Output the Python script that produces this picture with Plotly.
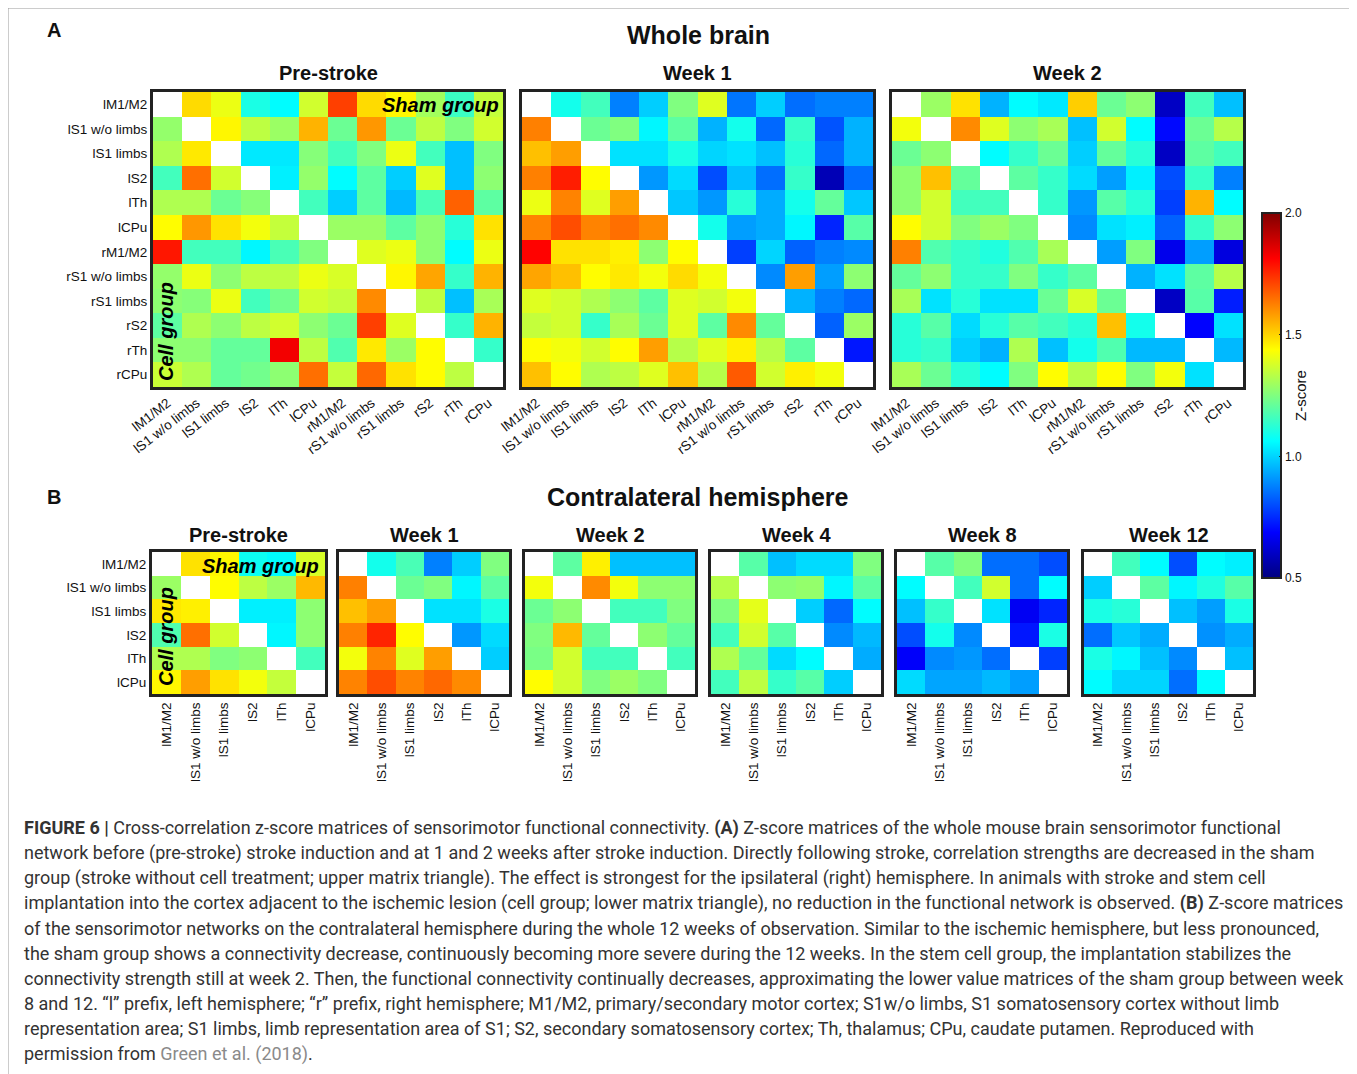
import plotly.graph_objects as go

W, H = 1357, 1074
N = None

regions_A = ["lM1/M2", "lS1 w/o limbs", "lS1 limbs", "lS2", "lTh", "lCPu",
             "rM1/M2", "rS1 w/o limbs", "rS1 limbs", "rS2", "rTh", "rCPu"]
regions_B = regions_A[:6]

titles_A = ["Pre-stroke", "Week 1", "Week 2"]
titles_B = ["Pre-stroke", "Week 1", "Week 2", "Week 4", "Week 8", "Week 12"]

pre_A = [
    [N, 1.49, 1.41, 1.10, 1.06, 1.37, 1.72, 1.49, 1.45, 1.30, 1.15, 1.35],
    [1.28, N, 1.45, 1.34, 1.29, 1.55, 1.22, 1.59, 1.22, 1.34, 1.25, 1.37],
    [1.32, 1.47, N, 1.03, 1.03, 1.26, 1.16, 1.25, 1.41, 1.16, 0.97, 1.25],
    [1.16, 1.65, 1.37, N, 1.04, 1.28, 1.06, 1.20, 0.99, 1.39, 0.97, 1.27],
    [1.32, 1.32, 1.22, 1.26, N, 1.16, 0.99, 1.20, 0.96, 1.17, 1.67, 1.20],
    [1.44, 1.59, 1.48, 1.42, 1.35, N, 1.29, 1.29, 1.20, 1.27, 1.12, 1.48],
    [1.78, 1.16, 1.16, 1.05, 1.17, 1.25, N, 1.39, 1.41, 1.27, 1.06, 1.41],
    [1.28, 1.41, 1.27, 1.34, 1.34, 1.41, 1.38, N, 1.45, 1.57, 1.14, 1.55],
    [1.27, 1.26, 1.41, 1.16, 1.23, 1.37, 1.35, 1.61, N, 1.34, 0.97, 1.31],
    [1.20, 1.32, 1.27, 1.34, 1.37, 1.27, 1.22, 1.72, 1.39, N, 1.14, 1.55],
    [1.27, 1.27, 1.21, 1.21, 1.83, 1.34, 1.18, 1.47, 1.29, 1.44, N, 1.14],
    [1.36, 1.32, 1.21, 1.23, 1.27, 1.65, 1.35, 1.66, 1.48, 1.44, 1.34, N],
]

wk1_A = [
    [N, 1.09, 1.16, 0.875, 0.99, 1.25, 1.39, 0.86, 0.99, 0.85, 0.875, 0.875],
    [1.625, N, 1.22, 1.25, 1.05, 1.20, 0.95, 1.09, 0.84, 1.14, 0.81, 0.95],
    [1.53, 1.58, N, 1.02, 1.02, 1.10, 1.00, 1.02, 0.97, 1.12, 0.84, 0.95],
    [1.625, 1.77, 1.44, N, 0.91, 1.01, 0.80, 0.97, 0.85, 1.14, 0.58, 0.85],
    [1.41, 1.62, 1.39, 1.58, N, 0.98, 0.91, 1.12, 0.94, 1.09, 1.21, 0.98],
    [1.62, 1.70, 1.62, 1.65, 1.61, N, 1.09, 0.92, 0.94, 1.05, 0.74, 1.19],
    [1.81, 1.48, 1.48, 1.46, 1.27, 1.44, N, 0.78, 1.00, 0.83, 0.875, 0.89],
    [1.57, 1.53, 1.44, 1.47, 1.42, 1.49, 1.42, N, 0.89, 1.58, 0.92, 1.27],
    [1.39, 1.37, 1.32, 1.27, 1.20, 1.39, 1.37, 1.42, N, 0.95, 0.875, 0.84],
    [1.35, 1.37, 1.14, 1.31, 1.22, 1.39, 1.20, 1.61, 1.21, N, 0.83, 1.29],
    [1.44, 1.42, 1.37, 1.44, 1.58, 1.33, 1.39, 1.46, 1.33, 1.20, N, 0.72],
    [1.53, 1.44, 1.32, 1.34, 1.39, 1.53, 1.33, 1.68, 1.37, 1.46, 1.42, N],
]

wk2_A = [
    [N, 1.29, 1.48, 0.95, 1.06, 1.03, 1.51, 1.22, 1.27, 0.60, 1.16, 0.97],
    [1.42, N, 1.61, 1.39, 1.27, 1.31, 0.97, 1.37, 1.06, 0.70, 1.22, 1.33],
    [1.22, 1.27, N, 1.06, 1.14, 1.22, 0.99, 1.21, 1.12, 0.60, 1.20, 1.16],
    [1.27, 1.53, 1.21, N, 1.20, 1.14, 1.01, 0.92, 1.04, 0.80, 1.14, 0.875],
    [1.27, 1.37, 1.16, 1.16, N, 1.14, 0.91, 1.19, 1.12, 0.78, 1.55, 1.06],
    [1.44, 1.37, 1.25, 1.29, 1.25, N, 0.89, 1.02, 1.04, 0.83, 1.14, 1.27],
    [1.625, 1.18, 1.14, 1.11, 1.18, 1.31, N, 0.92, 1.25, 0.66, 0.92, 0.64],
    [1.21, 1.27, 1.14, 1.14, 1.25, 1.14, 1.20, N, 0.95, 1.02, 1.20, 1.33],
    [1.31, 1.02, 1.12, 1.02, 1.02, 1.22, 1.38, 1.22, N, 0.60, 1.19, 0.73],
    [1.12, 1.19, 1.01, 1.12, 1.19, 1.16, 1.12, 1.53, 1.09, N, 0.69, 1.02],
    [1.12, 1.14, 0.99, 0.95, 1.32, 0.97, 1.09, 1.18, 0.96, 0.96, N, 0.96],
    [1.31, 1.22, 1.12, 1.06, 1.25, 1.44, 1.33, 1.44, 1.25, 1.42, 1.02, N],
]

pre_B = [
    [N, 1.48, 1.45, 1.08, 1.06, 1.38],
    [1.29, N, 1.44, 1.34, 1.29, 1.54],
    [1.47, 1.46, N, 1.04, 1.04, 1.27],
    [1.18, 1.65, 1.37, N, 1.05, 1.27],
    [1.32, 1.32, 1.25, 1.27, N, 1.16],
    [1.45, 1.58, 1.48, 1.42, 1.35, N],
]

wk1_B = [
    [N, 1.09, 1.17, 0.875, 0.99, 1.25],
    [1.625, N, 1.22, 1.25, 1.05, 1.20],
    [1.53, 1.58, N, 1.02, 1.02, 1.10],
    [1.625, 1.76, 1.44, N, 0.91, 1.01],
    [1.42, 1.62, 1.39, 1.58, N, 0.99],
    [1.62, 1.70, 1.62, 1.66, 1.61, N],
]

wk2_B = [
    [N, 1.20, 1.46, 0.97, 0.97, 0.97],
    [1.42, N, 1.61, 1.42, 1.27, 1.27],
    [1.22, 1.27, N, 1.16, 1.16, 1.25],
    [1.25, 1.54, 1.21, N, 1.27, 1.21],
    [1.24, 1.37, 1.16, 1.16, N, 1.16],
    [1.44, 1.37, 1.25, 1.29, 1.25, N],
]

wk4_B = [
    [N, 1.19, 0.97, 1.01, 1.01, 1.25],
    [1.33, N, 1.27, 1.28, 1.05, 1.20],
    [1.25, 1.40, N, 0.99, 0.84, 1.06],
    [1.16, 1.37, 1.19, N, 0.89, 0.96],
    [1.32, 1.21, 1.01, 1.06, N, 0.94],
    [1.16, 1.34, 1.14, 1.19, 0.99, N],
]

wk8_B = [
    [N, 1.19, 1.25, 0.85, 0.85, 0.80],
    [1.06, N, 1.16, 1.37, 0.85, 1.06],
    [0.97, 1.14, N, 1.02, 0.67, 0.74],
    [0.80, 1.09, 0.89, N, 0.72, 1.10],
    [0.68, 0.89, 0.91, 0.85, N, 0.78],
    [1.01, 0.93, 0.93, 0.96, 0.92, N],
]

wk12_B = [
    [N, 1.16, 1.06, 0.80, 1.06, 1.04],
    [0.99, N, 1.20, 1.05, 1.11, 1.19],
    [1.10, 1.12, N, 0.97, 0.92, 1.10],
    [0.85, 0.98, 0.94, N, 0.90, 0.94],
    [1.10, 1.05, 0.97, 0.89, N, 0.97],
    [1.06, 1.00, 1.00, 0.85, 1.06, N],
]

mats_A = [pre_A, wk1_A, wk2_A]
mats_B = [pre_B, wk1_B, wk2_B, wk4_B, wk8_B, wk12_B]

# jet colour scale
jet = [[0.0, "rgb(0,0,128)"], [0.125, "rgb(0,0,255)"], [0.375, "rgb(0,255,255)"],
       [0.625, "rgb(255,255,0)"], [0.875, "rgb(255,0,0)"], [1.0, "rgb(128,0,0)"]]

# the page body adds an 8 px margin; positions below are target screen pixels
OFF = 8

def px_x(p):
    return (p - OFF) / W

def px_y(p):
    return 1 - (p - OFF) / H

boxes_A = [(153, 503), (522, 873), (892, 1243)]
A_top, A_bot = 92, 387
boxes_B = [(152, 325), (339, 509), (525, 695), (711, 881), (897, 1067), (1084, 1253)]
B_top, B_bot = 552, 694

fig = go.Figure()
layout_axes = {}
annotations = []
TICKFONT = dict(family="Arial, Liberation Sans, sans-serif", size=13.5, color="#111")
TITLEFONT = dict(family="Arial, Liberation Sans, sans-serif", size=20, color="#111")

panels = []
for i, m in enumerate(mats_A):
    panels.append((m, regions_A, boxes_A[i], A_top, A_bot, -38, i == 0, titles_A[i], 73))
for i, m in enumerate(mats_B):
    panels.append((m, regions_B, boxes_B[i], B_top, B_bot, -90, i == 0, titles_B[i], 535))

for k, (m, labs, (x0, x1), yt, yb, ang, showy, title, ty) in enumerate(panels):
    n = k + 1
    xa = "x" if n == 1 else f"x{n}"
    ya = "y" if n == 1 else f"y{n}"
    fig.add_trace(go.Heatmap(z=m, x=labs, y=labs, coloraxis="coloraxis",
                             xaxis=xa, yaxis=ya, hoverongaps=False, xgap=0, ygap=0))
    xkey = "xaxis" if n == 1 else f"xaxis{n}"
    ykey = "yaxis" if n == 1 else f"yaxis{n}"
    layout_axes[xkey] = dict(domain=[px_x(x0), px_x(x1)], anchor=ya, tickangle=ang,
                             tickfont=TICKFONT, showline=True, mirror=True, linewidth=3,
                             linecolor="#222", ticks="", showgrid=False, zeroline=False,
                             type="category", fixedrange=True, automargin=False)
    layout_axes[ykey] = dict(domain=[px_y(yb), px_y(yt)], anchor=xa, autorange="reversed",
                             tickfont=TICKFONT, showline=True, mirror=True, linewidth=3,
                             linecolor="#222", ticks="", showgrid=False, zeroline=False,
                             showticklabels=showy, type="category", fixedrange=True,
                             automargin=False)
    annotations.append(dict(text=f"<b>{title}</b>", x=px_x((x0 + x1) / 2), y=px_y(ty),
                            font=TITLEFONT))

BIG = dict(family="Arial, Liberation Sans, sans-serif", size=25, color="#111")
annotations += [
    dict(text="<b>Whole brain</b>", x=px_x(698), y=px_y(35), font=BIG),
    dict(text="<b>Contralateral hemisphere</b>", x=px_x(698), y=px_y(497), font=BIG),
    dict(text="<b>A</b>", x=px_x(54), y=px_y(30), font=dict(family="Arial", size=20, color="#111")),
    dict(text="<b>B</b>", x=px_x(54), y=px_y(497), font=dict(family="Arial", size=20, color="#111")),
]
GRP = dict(family="Arial, Liberation Sans, sans-serif", size=20, color="#000")
annotations += [
    dict(text="<b><i>Sham group</i></b>", x=px_x(501), y=px_y(105), xanchor="right", font=GRP),
    dict(text="<b><i>Cell group</i></b>", x=px_x(166), y=px_y(332), textangle=-90, font=GRP),
    dict(text="<b><i>Sham group</i></b>", x=px_x(321), y=px_y(566), xanchor="right", font=GRP),
    dict(text="<b><i>Cell group</i></b>", x=px_x(166), y=px_y(637), textangle=-90, font=GRP),
]

caption_lines = [
    "<b>FIGURE 6 |</b> Cross-correlation z-score matrices of sensorimotor functional connectivity. <b>(A)</b> Z-score matrices of the whole mouse brain sensorimotor functional",
    "network before (pre-stroke) stroke induction and at 1 and 2 weeks after stroke induction. Directly following stroke, correlation strengths are decreased in the sham",
    "group (stroke without cell treatment; upper matrix triangle). The effect is strongest for the ipsilateral (right) hemisphere. In animals with stroke and stem cell",
    "implantation into the cortex adjacent to the ischemic lesion (cell group; lower matrix triangle), no reduction in the functional network is observed. <b>(B)</b> Z-score matrices",
    "of the sensorimotor networks on the contralateral hemisphere during the whole 12 weeks of observation. Similar to the ischemic hemisphere, but less pronounced,",
    "the sham group shows a connectivity decrease, continuously becoming more severe during the 12 weeks. In the stem cell group, the implantation stabilizes the",
    "connectivity strength still at week 2. Then, the functional connectivity continually decreases, approximating the lower value matrices of the sham group between week",
    "8 and 12. \u201cl\u201d prefix, left hemisphere; \u201cr\u201d prefix, right hemisphere; M1/M2, primary/secondary motor cortex; S1w/o limbs, S1 somatosensory cortex without limb",
    "representation area; S1 limbs, limb representation area of S1; S2, secondary somatosensory cortex; Th, thalamus; CPu, caudate putamen. Reproduced with",
    "permission from <span style='color:#8a8a8a'>Green et al. (2018)</span>.",
]
CAP = dict(family="Roboto, Arial, sans-serif", size=18, color="#333")
for i, line in enumerate(caption_lines):
    annotations.append(dict(text=line, x=px_x(22), y=px_y(828 + 25.1 * i), xanchor="left",
                            font=CAP))

for a in annotations:
    a.setdefault("xref", "paper")
    a.setdefault("yref", "paper")
    a.setdefault("showarrow", False)
    a.setdefault("xanchor", "center")
    a.setdefault("yanchor", "middle")

fig.update_layout(
    width=W, height=H, autosize=False,
    margin=dict(l=0, r=0, t=0, b=0, pad=0, autoexpand=False),
    paper_bgcolor="white", plot_bgcolor="white",
    coloraxis=dict(
        colorscale=jet, cmin=0.5, cmax=2.0,
        colorbar=dict(
            x=px_x(1262), xanchor="left", xref="paper", xpad=0,
            y=px_y(395.5), yanchor="middle", yref="paper", ypad=0,
            len=365 / H, lenmode="fraction", thickness=19,
            outlinewidth=2, outlinecolor="#222",
            tickvals=[0.5, 1.0, 1.5, 2.0], ticktext=["0.5", "1.0", "1.5", "2.0"],
            ticks="inside", ticklen=3, tickcolor="#222",
            tickfont=dict(family="Arial", size=12, color="#111"),
            title=dict(text="Z-score", side="right", font=dict(family="Arial", size=15, color="#111")),
        ),
    ),
    annotations=annotations,
    shapes=[dict(type="rect", xref="paper", yref="paper",
                 x0=px_x(8), x1=px_x(1355), y0=-0.02, y1=px_y(8),
                 line=dict(color="#9a9a9a", width=1))],
    showlegend=False,
    **layout_axes,
)

fig.write_html("out.html")
